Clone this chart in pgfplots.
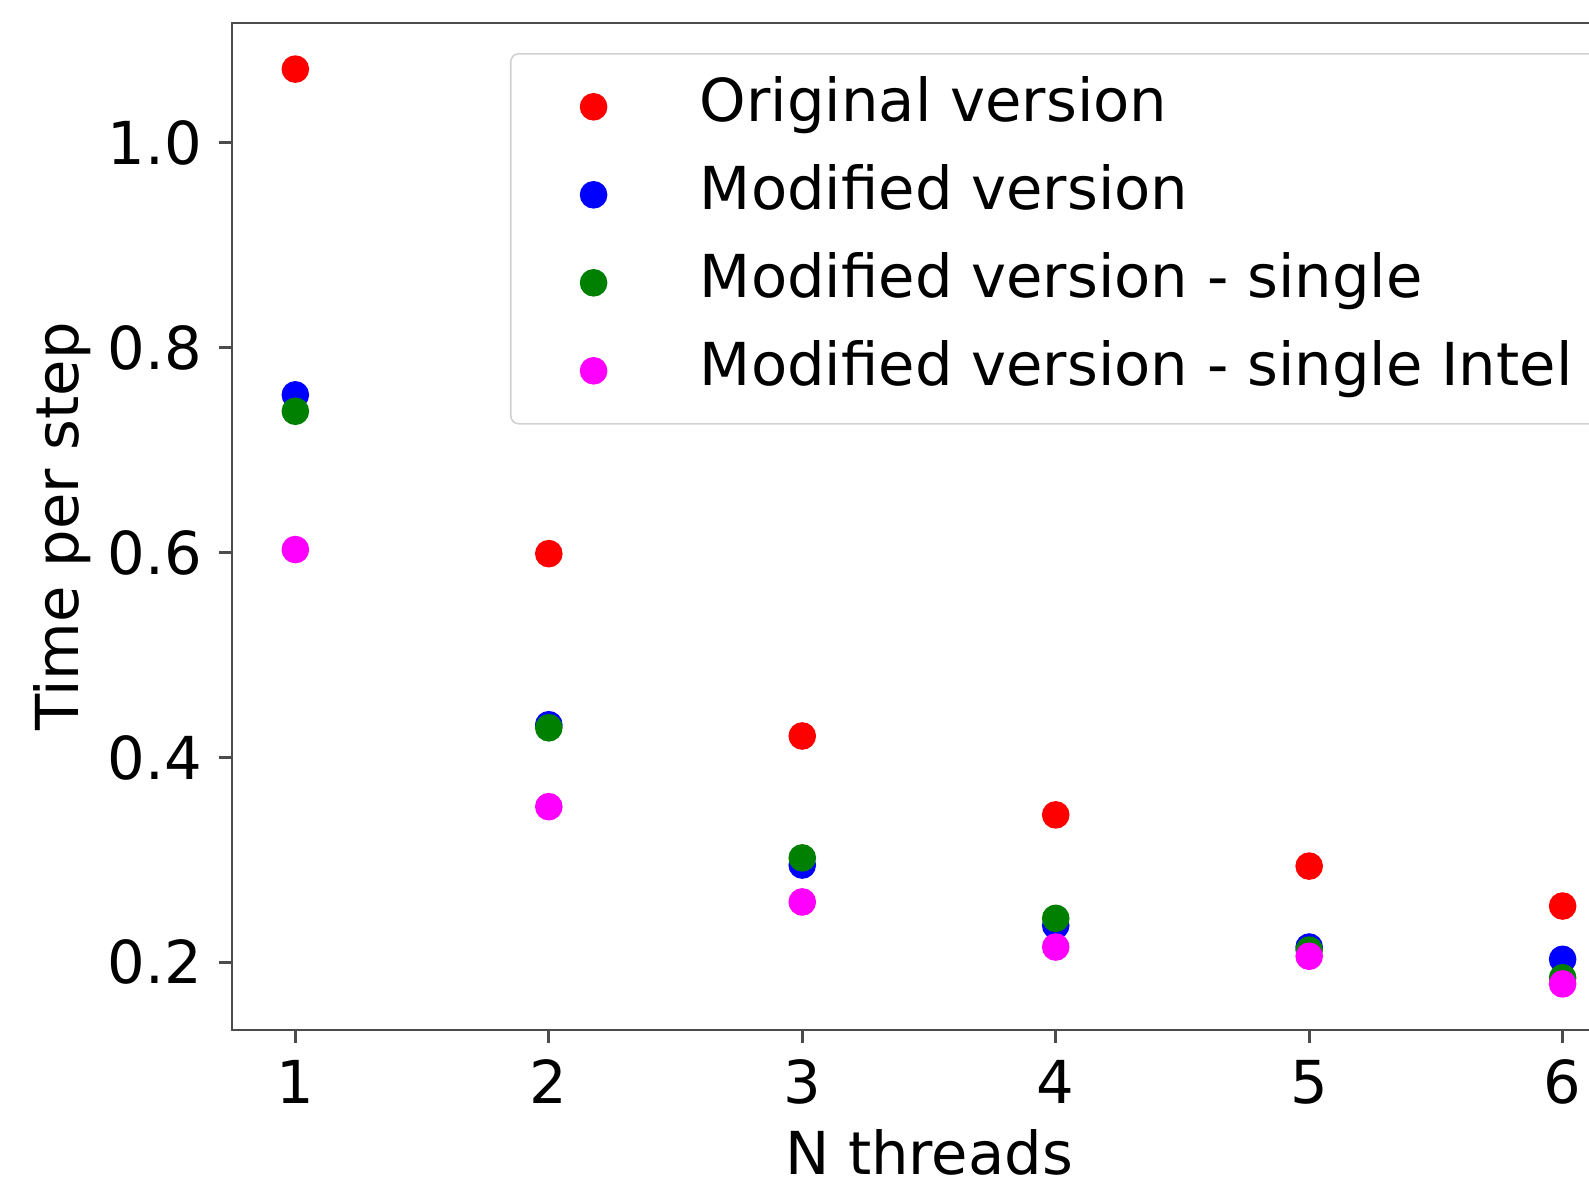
\documentclass[border=0pt]{standalone}
\usepackage{pgfplots}
\pgfplotsset{compat=1.18}
\usepackage{fontspec}
\setmainfont{DejaVu Sans}
\definecolor{mplgreen}{rgb}{0,0.5,0}
\definecolor{mplmagenta}{rgb}{1,0,1}
\definecolor{mplred}{rgb}{1,0,0}
\definecolor{mplblue}{rgb}{0,0,1}
\begin{document}
\fontsize{14.8}{17}\selectfont
\begin{tikzpicture}
\useasboundingbox (0,0) rectangle (397.25pt,295.5pt);
\clip (0,0) rectangle (397.25pt,295.5pt);
\begin{axis}[
  at={(58pt,38pt)}, anchor=south west,
  scale only axis, width=348.5pt, height=251.75pt,
  xmin=0.75, xmax=6.25, ymin=0.134, ymax=1.117,
  xtick={1,2,3,4,5,6}, ytick={0.2,0.4,0.6,0.8,1.0},
  tick align=outside, xtick pos=bottom, ytick pos=left,
  major tick length=3.3pt,
  every tick/.style={black!70, line width=0.7pt},
  axis line style={black!70, line width=0.7pt},
  /pgf/number format/assume math mode=true,
  tick label style={font=\fontsize{14.8}{17}\selectfont},
  yticklabel style={/pgf/number format/fixed, /pgf/number format/fixed zerofill, /pgf/number format/precision=1, inner sep=0pt, xshift=-4pt},
  xticklabel style={inner sep=0pt, yshift=-4pt},
  xlabel={N threads}, ylabel={Time per step},
  label style={font=\fontsize{14.8}{17}\selectfont},
  xlabel style={at={(axis description cs:0.5,-0.143)}, anchor=base},
  ylabel style={at={(axis description cs:-0.1098,0.5)}, anchor=base},
  legend style={at={(axis description cs:0,1)}, anchor=north west, xshift=69.5pt, yshift=-7.5pt,
    draw=black!18, rounded corners=2pt, fill=white, inner xsep=10.5pt, inner ysep=4pt,
    font=\fontsize{14.8}{17}\selectfont, row sep=3.5pt,
    nodes={inner sep=0pt, text height=13pt, text depth=5.5pt},
    /tikz/every odd column/.append style={column sep=16.4pt}},
  legend cell align=left,
  legend image code/.code={\path (0pt,0pt) (20pt,0pt); \draw[mark repeat=2,mark phase=2] plot coordinates {(0pt,0pt)(10pt,0pt)(20pt,0pt)};},
  every axis plot/.append style={only marks, mark=*, mark size=3.25pt},
]
\addplot[mplred, mark options={fill=mplred, draw=mplred}] coordinates {(1,1.072)(2,0.599)(3,0.421)(4,0.344)(5,0.294)(6,0.255)};
\addlegendentry{Original version}
\addplot[mplblue, mark options={fill=mplblue, draw=mplblue}] coordinates {(1,0.754)(2,0.432)(3,0.295)(4,0.236)(5,0.215)(6,0.203)};
\addlegendentry{Modified version}
\addplot[mplgreen, mark options={fill=mplgreen, draw=mplgreen}] coordinates {(1,0.738)(2,0.429)(3,0.302)(4,0.243)(5,0.212)(6,0.185)};
\addlegendentry{Modified version - single}
\addplot[mplmagenta, mark options={fill=mplmagenta, draw=mplmagenta}] coordinates {(1,0.603)(2,0.352)(3,0.259)(4,0.215)(5,0.206)(6,0.179)};
\addlegendentry{Modified version - single Intel}
\end{axis}
\end{tikzpicture}
\end{document}
